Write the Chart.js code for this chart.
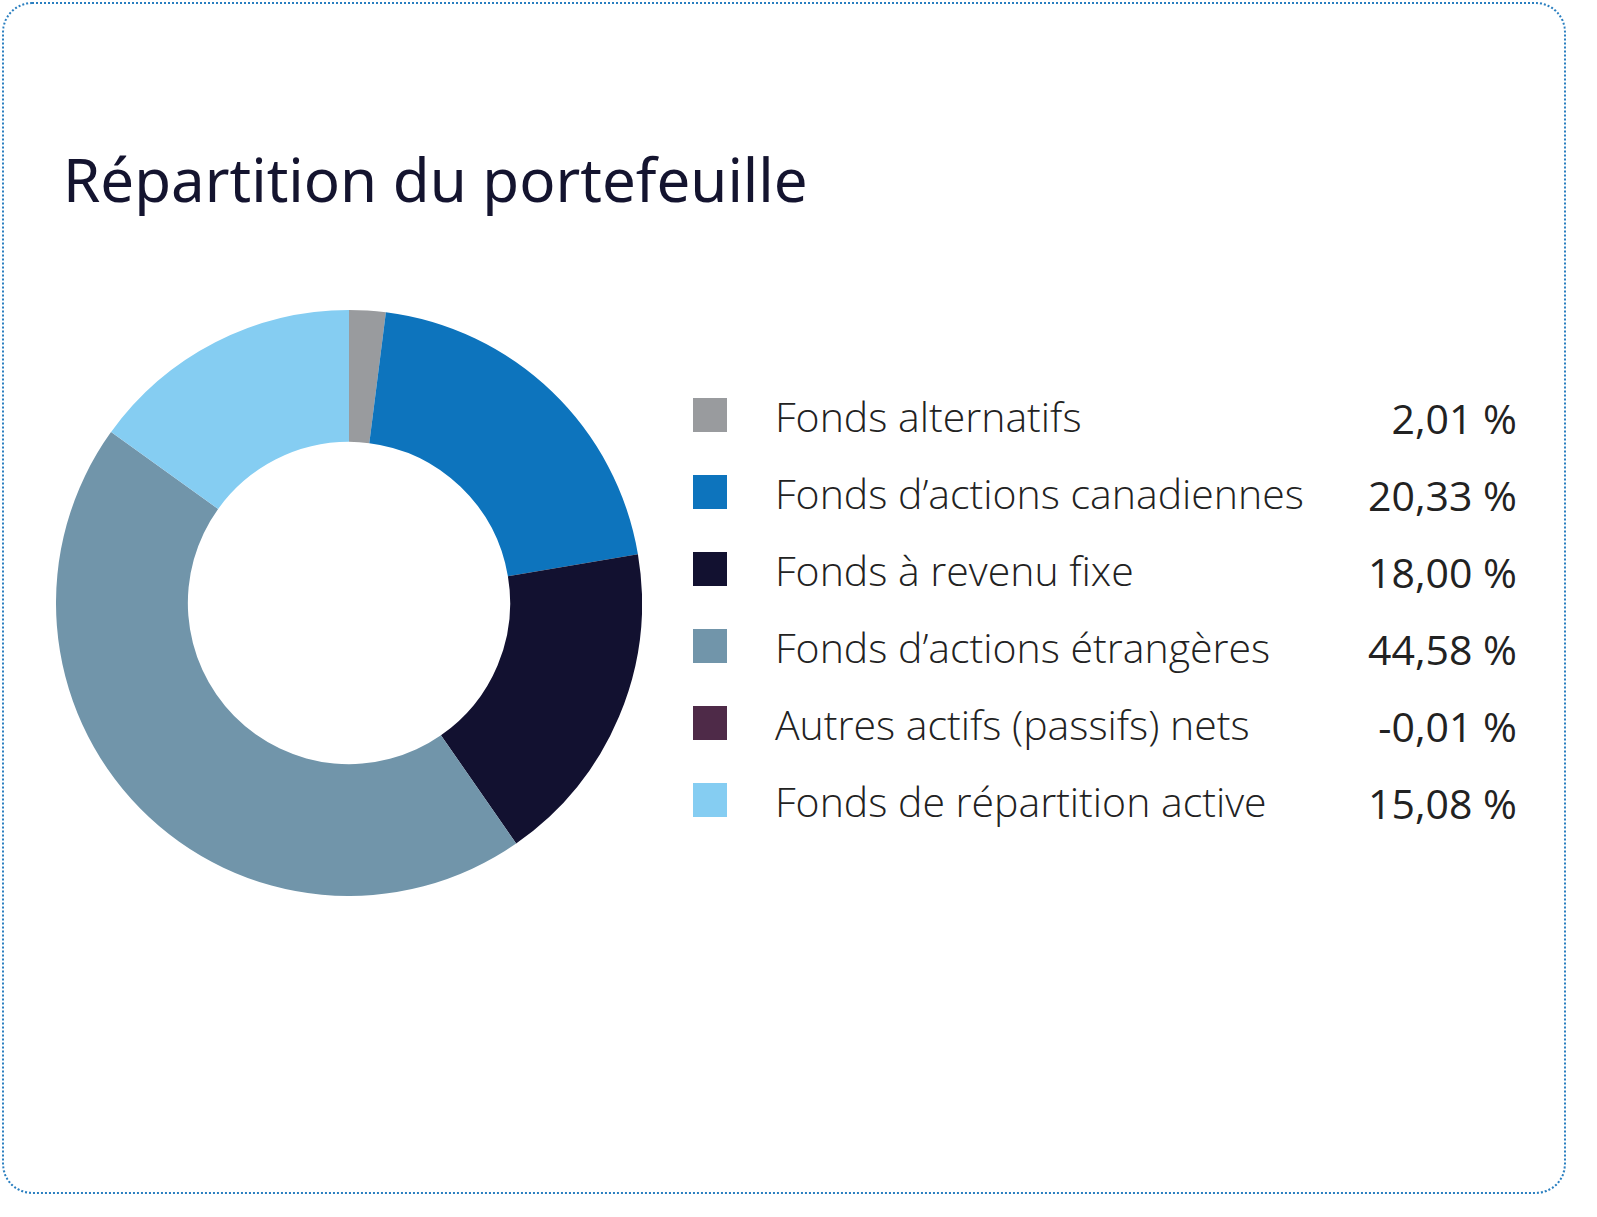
<!DOCTYPE html>
<html lang="fr">
<head>
<meta charset="UTF-8" />
<title>Répartition du portefeuille</title>
<script src="https://cdn.jsdelivr.net/npm/chart.js"></script>
<style>
  body { margin: 0; width: 1597px; height: 1217px; background: #fff; font-family: "Open Sans", sans-serif; }
  #card { position: absolute; left: 2px; top: 2px; width: 1560px; height: 1188px; border: 2px dotted #2a7fc0; border-radius: 30px; }
  h1 { position: absolute; left: 63px; top: 138px; margin: 0; font-family: "Noto Sans", sans-serif; font-weight: 400; font-size: 60px; color: #14142f; }
  #wrap { position: absolute; left: 56px; top: 310px; width: 586px; height: 586px; }
  #legend { position: absolute; left: 693px; top: 390px; width: 824px; }
  .row { position: relative; height: 77px; }
  .sw { position: absolute; left: 0; top: 8px; width: 34px; height: 34px; }
  .lab { position: absolute; left: 82px; top: 0; font-size: 41px; font-weight: 300; color: #222; line-height: 52px; }
  .val { position: absolute; right: 0; top: 2px; font-size: 41px; font-weight: 400; color: #222; line-height: 52px; }
</style>
</head>
<body>
<div id="card"></div>
<h1>Répartition du portefeuille</h1>
<div id="wrap"><canvas id="donut"></canvas></div>
<div id="legend"></div>
<script>
const labels = ["Fonds alternatifs", "Fonds d\u2019actions canadiennes", "Fonds à revenu fixe", "Fonds d\u2019actions étrangères", "Autres actifs (passifs) nets", "Fonds de répartition active"];
const values = [2.01, 20.33, 18.00, 44.58, -0.01, 15.08];
const colors = ["#999b9e", "#0d74bd", "#121130", "#7195aa", "#4e2a48", "#85cdf2"];

const legend = document.getElementById("legend");
labels.forEach((l, i) => {
  const row = document.createElement("div");
  row.className = "row";
  row.innerHTML = '<div class="sw" style="background:' + colors[i] + '"></div><div class="lab">' + l +
    '</div><div class="val">' + values[i].toFixed(2).replace(".", ",") + ' %</div>';
  legend.appendChild(row);
});

new Chart(document.getElementById("donut"), {
  type: "doughnut",
  data: { labels: labels, datasets: [{ data: values, backgroundColor: colors, borderWidth: 0 }] },
  options: {
    responsive: true, maintainAspectRatio: false, animation: false, cutout: "55%",
    plugins: { legend: { display: false }, tooltip: { enabled: false } }
  }
});
</script>
</body>
</html>
